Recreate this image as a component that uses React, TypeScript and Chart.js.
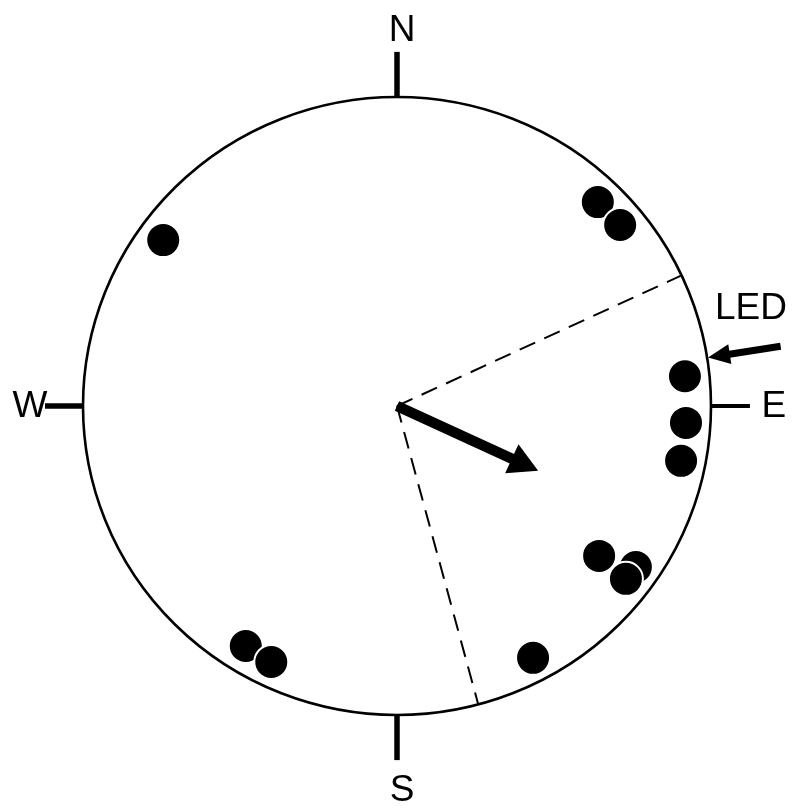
import React, { useEffect, useRef } from "react";
import { Chart, registerables } from "chart.js";

Chart.register(...registerables);

const CANVAS_W = 793;
const CANVAS_H = 812;
// pixel centre and radii of the unit circle
const CX = 397;
const CY = 406;
const RX = 314;
const RY = 309;

// Bearings (degrees clockwise from north) of the individual observations
const bearings = [305.8, 44.1, 50.5, 84, 93.4, 101.1, 127, 124.4, 127.5, 152, 211.8, 205.8];
// Radial position of each marker (stacked markers sit further in)
const radii = [0.918, 0.919, 0.921, 0.922, 0.922, 0.922, 0.806, 0.922, 0.919, 0.923, 0.914, 0.92];

// Mean vector and its 95% confidence limits
const meanBearing = 115;
const meanLength = 0.496;
const ciBearings = [65, 165];

// Stimulus direction
const ledBearing = 81;

// Compass labels
const compassLabels = ["N", "E", "S", "W"];
const compassBearings = [0, 90, 180, 270];
const labelRadii = [1.217, 1.2, 1.243, 1.169];
const labelShiftX = [5, 0, 5, 0];
const tickOuter = [1.146, 1.124, 1.146, 1.121];

const rad = (d: number) => (d * Math.PI) / 180;
const polar = (b: number, r: number) => ({ x: r * Math.sin(rad(b)), y: r * Math.cos(rad(b)) });

function drawArrow(
  ctx: CanvasRenderingContext2D,
  x0: number,
  y0: number,
  x1: number,
  y1: number,
  shaftW: number,
  headLen: number,
  headW: number
) {
  const dx = x1 - x0;
  const dy = y1 - y0;
  const len = Math.hypot(dx, dy);
  const ux = dx / len;
  const uy = dy / len;
  const bx = x1 - ux * headLen;
  const by = y1 - uy * headLen;
  ctx.save();
  ctx.strokeStyle = "#000";
  ctx.fillStyle = "#000";
  ctx.lineWidth = shaftW;
  ctx.lineCap = "butt";
  ctx.beginPath();
  ctx.moveTo(x0, y0);
  ctx.lineTo(bx + ux * 2, by + uy * 2);
  ctx.stroke();
  ctx.beginPath();
  ctx.moveTo(x1, y1);
  ctx.lineTo(bx - uy * headW / 2, by + ux * headW / 2);
  ctx.lineTo(bx + uy * headW / 2, by - ux * headW / 2);
  ctx.closePath();
  ctx.fill();
  ctx.restore();
}

const circularPlot = {
  id: "circularPlot",
  beforeDatasetsDraw(chart: any) {
    const ctx: CanvasRenderingContext2D = chart.ctx;
    const xs = chart.scales.x;
    const ys = chart.scales.y;
    const px = (p: { x: number; y: number }) => [xs.getPixelForValue(p.x), ys.getPixelForValue(p.y)];
    const [cx, cy] = px({ x: 0, y: 0 });
    const rx = xs.getPixelForValue(1) - cx;
    const ry = cy - ys.getPixelForValue(1);

    ctx.save();
    // outer circle
    ctx.strokeStyle = "#000";
    ctx.lineWidth = 2.6;
    ctx.beginPath();
    ctx.ellipse(cx, cy, rx, ry, 0, 0, Math.PI * 2);
    ctx.stroke();

    // compass ticks
    compassBearings.forEach((b, i) => {
      const [ax, ay] = px(polar(b, 1));
      const [bx, by] = px(polar(b, tickOuter[i]));
      ctx.lineWidth = b === 90 ? 4 : 5.5;
      ctx.beginPath();
      ctx.moveTo(ax, ay);
      ctx.lineTo(bx, by);
      ctx.stroke();
    });

    // confidence limits
    ctx.lineWidth = 2;
    ctx.setLineDash([17, 10]);
    ciBearings.forEach((b) => {
      const [ex, ey] = px(polar(b, 1));
      ctx.beginPath();
      ctx.moveTo(cx, cy);
      ctx.lineTo(ex, ey);
      ctx.stroke();
    });
    ctx.setLineDash([]);
    ctx.restore();

    // mean vector
    const [mx, my] = px(polar(meanBearing, meanLength));
    drawArrow(ctx, cx, cy, mx, my, 10.5, 29, 32);

    // LED direction
    const [lx0, ly0] = px(polar(ledBearing, 1.237));
    const [lx1, ly1] = px(polar(ledBearing, 1.003));
    drawArrow(ctx, lx0, ly0, lx1, ly1, 7, 22, 20);
  },
  afterDraw(chart: any) {
    const ctx: CanvasRenderingContext2D = chart.ctx;
    const xs = chart.scales.x;
    const ys = chart.scales.y;
    ctx.save();
    ctx.fillStyle = "#000";
    ctx.font = '37px "Liberation Sans", Arial, sans-serif';
    ctx.textAlign = "center";
    ctx.textBaseline = "middle";
    compassLabels.forEach((t, i) => {
      const p = polar(compassBearings[i], labelRadii[i]);
      ctx.fillText(t, xs.getPixelForValue(p.x) + labelShiftX[i], ys.getPixelForValue(p.y) + 1);
    });
    ctx.fillText("LED", xs.getPixelForValue(1.127), ys.getPixelForValue(0.317) + 1);
    ctx.restore();
  },
};

export default function App() {
  const ref = useRef<HTMLCanvasElement | null>(null);

  useEffect(() => {
    if (!ref.current) return;
    const points = bearings.map((b, i) => polar(b, radii[i]));
    const chart = new Chart(ref.current, {
      type: "scatter",
      data: {
        datasets: [
          {
            data: points,
            pointRadius: 17,
            pointBorderWidth: 2,
            pointBackgroundColor: "#000",
            pointBorderColor: "#fff",
            showLine: false,
            clip: false,
          },
        ],
      },
      options: {
        responsive: false,
        animation: false,
        events: [],
        layout: { padding: 0, autoPadding: false },
        plugins: { legend: { display: false }, tooltip: { enabled: false } },
        scales: {
          x: { type: "linear", display: false, min: -CX / RX, max: (CANVAS_W - CX) / RX },
          y: { type: "linear", display: false, min: -(CANVAS_H - CY) / RY, max: CY / RY },
        },
      },
      plugins: [circularPlot],
    });
    return () => chart.destroy();
  }, []);

  return (
    <div style={{ position: "absolute", left: 0, top: 0, width: CANVAS_W, height: CANVAS_H, background: "#fff" }}>
      <canvas ref={ref} width={CANVAS_W} height={CANVAS_H} />
    </div>
  );
}
